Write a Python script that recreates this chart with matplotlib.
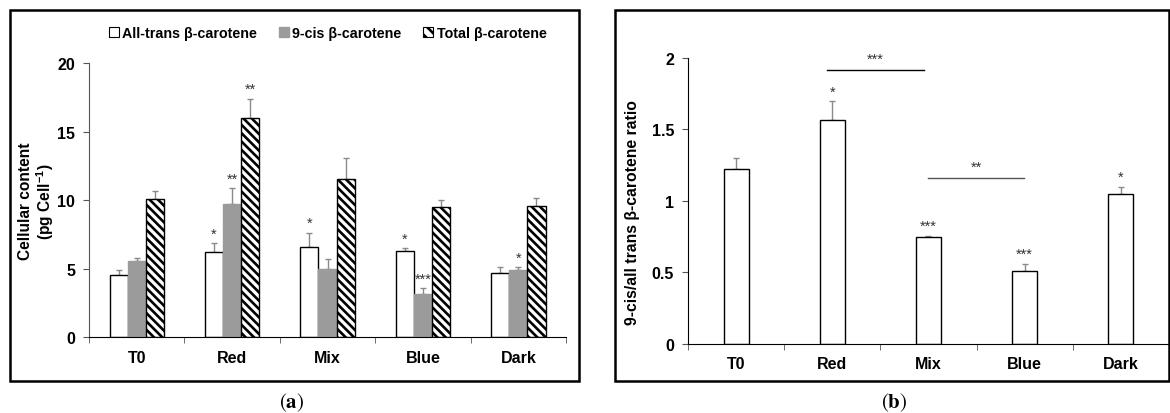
import matplotlib

matplotlib.use("Agg")
import matplotlib.pyplot as plt
import numpy as np
from matplotlib.patches import Patch, Rectangle

plt.rcParams["font.family"] = ["Liberation Sans", "DejaVu Sans"]
plt.rcParams["font.weight"] = "bold"
plt.rcParams["hatch.linewidth"] = 1.9
plt.rcParams["mathtext.fontset"] = "stix"

# categories and series
conditions = ["T0", "Red", "Mix", "Blue", "Dark"]

all_trans = [4.55, 6.25, 6.62, 6.33, 4.67]
all_trans_err = [0.40, 0.60, 1.00, 0.17, 0.44]
cis9 = [5.57, 9.73, 4.99, 3.19, 4.89]
cis9_err = [0.20, 1.15, 0.70, 0.39, 0.22]
total = [10.07, 15.99, 11.58, 9.49, 9.59]
total_err = [0.60, 1.40, 1.50, 0.50, 0.56]

all_trans_sig = ["", "*", "*", "*", ""]
cis9_sig = ["", "**", "", "***", "*"]
total_sig = ["", "**", "", "", ""]

ratio = [1.222, 1.566, 0.748, 0.509, 1.050]
ratio_err = [0.077, 0.13, 0.01, 0.05, 0.05]
ratio_sig = ["", "*", "***", "***", "*"]

# pairwise comparison brackets (from, to, height, label)
pair_from = [0.95, 2.0]
pair_to = [1.95, 2.99]
pair_y = [1.916, 1.161]
pair_label = ["***", "**"]

GRAY = "#9b9b9b"
ERR = "#8a8a8a"
TICK_FS = 11.5
STAR_FS = 10.5

fig = plt.figure(figsize=(11.7, 4.14), dpi=100)

# panel frames
for x0, w in [(0.0085, 0.4863), (0.5256, 0.4735)]:
    fig.patches.append(Rectangle((x0, 0.0773), w, 0.896, transform=fig.transFigure,
                                 fill=False, edgecolor="black", linewidth=1.8))


def style_axes(ax, n):
    for side in ["top", "right"]:
        ax.spines[side].set_visible(False)
    ax.spines["left"].set_color("#555555")
    ax.spines["bottom"].set_color("black")
    ax.set_xlim(-0.5, n - 0.5)
    ax.set_xticks(range(n))
    ax.set_xticklabels(conditions, fontsize=TICK_FS, fontweight="bold")
    ax.set_xticks(np.arange(-0.5, n, 1.0), minor=True)
    ax.tick_params(axis="x", which="major", length=0, pad=9)
    ax.tick_params(axis="x", which="minor", length=4, direction="out", color="#555555")
    ax.tick_params(axis="y", length=4, direction="out", color="#555555", labelsize=TICK_FS, pad=6)
    for lbl in ax.get_yticklabels():
        lbl.set_fontweight("bold")


# (a) cellular content
ax1 = fig.add_axes([0.0761, 0.1824, 0.4077, 0.663])
x = np.arange(len(conditions))
w = 0.19
series = [
    (all_trans, all_trans_err, all_trans_sig, -w, dict(facecolor="white", edgecolor="black")),
    (cis9, cis9_err, cis9_sig, 0.0, dict(facecolor=GRAY, edgecolor=GRAY)),
    (total, total_err, total_sig, w, dict(facecolor="white", edgecolor="black", hatch="\\\\\\\\")),
]
for vals, errs, sig, off, kw in series:
    ax1.bar(x + off, vals, width=w, linewidth=1.0, zorder=2, **kw)
    ax1.errorbar(x + off, vals, yerr=[np.zeros(len(vals)), errs], fmt="none",
                 ecolor=ERR, elinewidth=1.0, capsize=2.5, capthick=1.0, zorder=1)
    for xi, v, e, s in zip(x + off, vals, errs, sig):
        if s:
            ax1.text(xi, v + e + 0.2, s, ha="center", va="bottom", fontsize=STAR_FS,
                     color="#333333", fontweight="normal")
ax1.set_ylim(0, 20)
ax1.set_yticks([0, 5, 10, 15, 20])
style_axes(ax1, len(conditions))
ax1.set_ylabel("Cellular content\n(pg Cell$^{\\mathregular{-1}}$)", fontsize=11.2,
               fontweight="bold", linespacing=1.05, va="center")
ax1.yaxis.set_label_coords(-0.109, 0.50)

handles = [
    Patch(facecolor="white", edgecolor="black", linewidth=0.8),
    Patch(facecolor=GRAY, edgecolor=GRAY),
    Patch(facecolor="white", edgecolor="black", hatch="\\\\\\", linewidth=0.8),
]
fig.legend(handles, ["All-trans β-carotene", "9-cis β-carotene", "Total β-carotene"],
           loc="center", bbox_to_anchor=(0.280, 0.918), ncol=3, frameon=False,
           handlelength=0.7, handleheight=0.7, handletextpad=0.25, columnspacing=1.5,
           prop={"size": 10.3, "weight": "bold"})

# (b) ratio
ax2 = fig.add_axes([0.588, 0.1667, 0.4111, 0.6908])
ax2.bar(x, ratio, width=0.26, facecolor="white", edgecolor="black", linewidth=1.0, zorder=2)
ax2.errorbar(x, ratio, yerr=[np.zeros(len(ratio)), ratio_err], fmt="none",
             ecolor=ERR, elinewidth=1.0, capsize=2.5, capthick=1.0, zorder=1)
for xi, v, e, s in zip(x, ratio, ratio_err, ratio_sig):
    if s:
        ax2.text(xi, v + e + 0.02, s, ha="center", va="bottom", fontsize=STAR_FS,
                 color="#333333", fontweight="normal")
for x0, x1, yy, s, c in zip(pair_from, pair_to, pair_y, pair_label, ["black", "#555555"]):
    ax2.plot([x0, x1], [yy, yy], color=c, linewidth=1.0)
    ax2.text((x0 + x1) / 2, yy + 0.03, s, ha="center", va="bottom", fontsize=STAR_FS,
             color="#333333", fontweight="normal")
ax2.set_ylim(0, 2)
ax2.set_yticks([0, 0.5, 1, 1.5, 2])
ax2.set_yticklabels(["0", "0.5", "1", "1.5", "2"])
style_axes(ax2, len(conditions))
ax2.spines["left"].set_color("black")
ax2.set_ylabel("9-cis/all trans β-carotene ratio", fontsize=11.3, fontweight="bold", va="center")
ax2.yaxis.set_label_coords(-0.116, 0.463)

fig.text(0.249, 0.028, r"($\mathbf{a}$)", ha="center", va="center", fontsize=15,
         family="STIXGeneral", fontweight="normal")
fig.text(0.764, 0.028, r"($\mathbf{b}$)", ha="center", va="center", fontsize=15,
         family="STIXGeneral", fontweight="normal")

fig.savefig("out.png", dpi=100)
